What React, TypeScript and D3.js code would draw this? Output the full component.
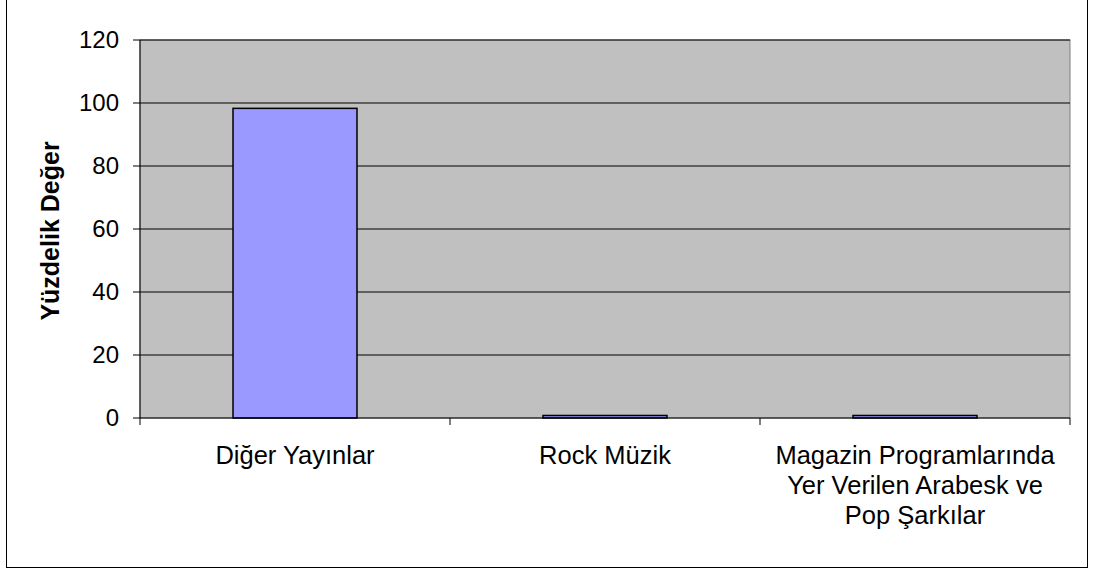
import React from "react";
import * as d3 from "d3";

const categories: string[][] = [
  ["Diğer Yayınlar"],
  ["Rock Müzik"],
  ["Magazin Programlarında", "Yer Verilen Arabesk ve", "Pop Şarkılar"],
];
const values: number[] = [98.3, 0.8, 0.8];
const yTicks: number[] = [0, 20, 40, 60, 80, 100, 120];
const yTitle = "Yüzdelik Değer";

const W = 1093;
const H = 571;
const plot = { left: 140, right: 1070, top: 40, bottom: 418 };
const FONT = "'Liberation Sans', Arial, sans-serif";

export default function App() {
  const x = d3
    .scaleBand<number>()
    .domain(d3.range(categories.length))
    .range([plot.left, plot.right])
    .paddingInner(0.6)
    .paddingOuter(0.3);
  const xb = d3
    .scaleBand<number>()
    .domain(d3.range(categories.length))
    .range([plot.left, plot.right]);
  const y = d3.scaleLinear().domain([0, 120]).range([plot.bottom, plot.top]);

  return (
    <svg
      width={W}
      height={H}
      style={{ position: "absolute", left: 0, top: 0, background: "#fff" }}
      fontFamily={FONT}
    >
      <rect x={6.5} y={-1} width={1081} height={568.5} fill="#fff" stroke="#000" strokeWidth={1} />
      <rect
        x={plot.left}
        y={plot.top}
        width={plot.right - plot.left}
        height={plot.bottom - plot.top}
        fill="#c0c0c0"
        stroke="#808080"
        strokeWidth={1}
      />
      {yTicks.map((t) => (
        <g key={t}>
          {t > 0 && (
            <line x1={plot.left} x2={plot.right} y1={y(t)} y2={y(t)} stroke="#000" strokeWidth={1} />
          )}
          <line x1={plot.left - 7} x2={plot.left} y1={y(t)} y2={y(t)} stroke="#000" strokeWidth={1} />
          <text x={plot.left - 21} y={y(t)} dy="0.35em" textAnchor="end" fontSize={24} fill="#000">
            {t}
          </text>
        </g>
      ))}
      {values.map((v, i) => (
        <rect
          key={i}
          x={x(i)!}
          y={y(v)}
          width={x.bandwidth()}
          height={plot.bottom - y(v)}
          fill="#9999ff"
          stroke="#000"
          strokeWidth={1.5}
        />
      ))}
      <line x1={plot.left} x2={plot.left} y1={plot.top} y2={plot.bottom} stroke="#000" strokeWidth={1} />
      <line x1={plot.left} x2={plot.right} y1={plot.bottom} y2={plot.bottom} stroke="#000" strokeWidth={1} />
      {d3.range(categories.length + 1).map((i) => {
        const xp = i < categories.length ? xb(i)! : plot.right;
        return <line key={i} x1={xp} x2={xp} y1={plot.bottom} y2={plot.bottom + 7} stroke="#000" />;
      })}
      {categories.map((lines, i) => (
        <text
          key={i}
          x={xb(i)! + xb.bandwidth() / 2}
          y={464}
          textAnchor="middle"
          fontSize={25.5}
          fill="#000"
        >
          {lines.map((l, j) => (
            <tspan key={j} x={xb(i)! + xb.bandwidth() / 2} dy={j === 0 ? 0 : 30}>
              {l}
            </tspan>
          ))}
        </text>
      ))}
      <text
        transform={`translate(59, ${(plot.top + plot.bottom) / 2 + 2}) rotate(-90)`}
        textAnchor="middle"
        fontSize={25}
        fontWeight="bold"
        fill="#000"
      >
        {yTitle}
      </text>
    </svg>
  );
}
